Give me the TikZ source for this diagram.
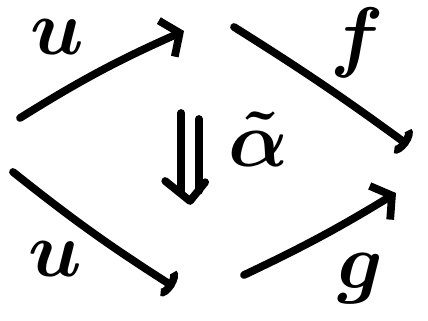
\documentclass[tikz,border=0pt]{standalone}
\usepackage{fix-cm}
\usepackage{amsmath,amssymb}
\usepackage{tikz}
\usetikzlibrary{arrows.meta, calc}

\begin{document}
\begin{tikzpicture}[
    stroke/.style={line width=5.5pt, line cap=round, line join=round},
    barb/.style={stroke, -{Straight Barb[length=10pt, width=28pt, line width=5.5pt]}},
    hook/.style={stroke, -{Arc Barb[length=6pt, width=22pt, line width=5.5pt]}},
    lbl/.style={inner sep=0pt, font=\fontsize{56}{56}\selectfont}
]
\useasboundingbox (0,0) rectangle (10.7,8.025);

% End points of the 1-cells
\coordinate (uTopStart) at (0.5,5.075);
\coordinate (uTopEnd) at (4.6,7.25);
\coordinate (fStart) at (5.85,7.35);
\coordinate (fEnd) at (10.2,4.4);
\coordinate (uBotStart) at (0.325,3.725);
\coordinate (uBotEnd) at (4.35,0.85);
\coordinate (gStart) at (6.1,1.15);
\coordinate (gEnd) at (9.9,3.2);

% Top path
\draw[barb] (uTopStart) to[bend left=4] (uTopEnd);
\draw[hook] (fStart) to[bend left=2] (fEnd);
\node[lbl] (uTop) at (1.425,7.1) {$\boldsymbol{u}$};
\node[lbl] (fLabel) at (8.925,6.95) {$\boldsymbol{f}$};

% Bottom path
\draw[hook] (uBotStart) to[bend right=3] (uBotEnd);
\draw[barb] (gStart) to[bend right=3] (gEnd);
\node[lbl] (uBot) at (1.375,1.55) {$\boldsymbol{u}$};
\node[lbl] (gLabel) at (9.0,1.05) {$\boldsymbol{g}$};

% 2-cell
\coordinate (alTop) at (4.75,5.15);
\coordinate (alBot) at (4.75,3.0);
\draw[stroke] ($(alTop)+(-0.22,0.05)$) -- ($(alBot)+(-0.22,0.25)$);
\draw[stroke] ($(alTop)+(0.22,-0.1)$) -- ($(alBot)+(0.22,0.25)$);
\draw[stroke] ($(alBot)+(-0.62,0.5)$) -- (alBot) -- ($(alBot)+(0.38,0.47)$);
\node[lbl] (alpha) at (6.45,4.55) {$\boldsymbol{\tilde{\alpha}}$};
\end{tikzpicture}
\end{document}
